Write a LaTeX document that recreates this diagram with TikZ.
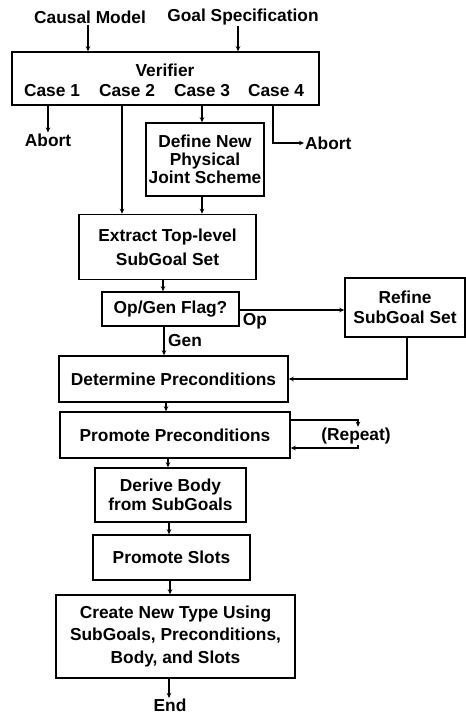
\documentclass[tikz,border=0pt]{standalone}
\usepackage{fontspec}
\setmainfont{Liberation Sans}
\usetikzlibrary{arrows.meta}
\begin{document}
\begin{tikzpicture}[x=1bp,y=-1bp,
  font=\bfseries\fontsize{17.4}{19.5}\selectfont,
  box/.style={draw,line width=1.5bp,inner sep=0pt,align=center},
  lbl/.style={inner sep=1pt},
  conn/.style={line width=1.4bp,-{Stealth[length=5bp,width=4.5bp]}},
  plain/.style={line width=1.4bp}]
\useasboundingbox (0,0) rectangle (466,717);
% labels on top
\node[lbl] (causal) at (90,17) {Causal Model};
\node[lbl] (goal) at (243,17) {Goal Specification};
% verifier
\node[box,minimum width=307bp,minimum height=53bp] (ver) at (165.5,78.5) {};
\node[lbl] (vt) at (165,70) {Verifier};
\node[lbl] (c1) at (52,91) {Case 1};
\node[lbl] (c2) at (127,91) {Case 2};
\node[lbl] (c3) at (202,91) {Case 3};
\node[lbl] (c4) at (276,91) {Case 4};
\node[lbl] (ab1) at (48,140) {Abort};
\node[lbl,anchor=west] (ab2) at (304,143) {Abort};
% boxes
\node[box,minimum width=118bp,minimum height=73bp,font=\bfseries\fontsize{17.4}{18}\selectfont] (def) at (205,159.5) {Define New\\Physical\\Joint Scheme};
\node[box,minimum width=177bp,minimum height=65bp,font=\bfseries\fontsize{17.4}{24}\selectfont] (ext) at (167.5,247) {Extract Top-level\\SubGoal Set};
\node[box,minimum width=137bp,minimum height=34bp] (opg) at (170.5,309) {Op/Gen Flag?};
\node[box,minimum width=120bp,minimum height=59bp] (ref) at (405,307.5) {Refine\\SubGoal Set};
\node[box,minimum width=229bp,minimum height=46bp] (det) at (173.5,379) {Determine Preconditions};
\node[box,minimum width=230bp,minimum height=46bp] (pp) at (175,435) {Promote Preconditions};
\node[lbl] (rep) at (356,436) {(Repeat)};
\node[box,minimum width=151bp,minimum height=54bp] (der) at (170.5,495) {Derive Body\\from SubGoals};
\node[box,minimum width=157bp,minimum height=45bp] (ps) at (171.5,557.5) {Promote Slots};
\node[box,minimum width=239bp,minimum height=83bp,font=\bfseries\fontsize{17.4}{22.5}\selectfont] (cre) at (175.5,636.5) {Create New Type Using\\SubGoals, Preconditions,\\Body, and Slots};
\node[lbl] (end) at (170,705.5) {End};
% connectors
\draw[conn] ([xshift=-2bp]causal.south) -- ([xshift=-2bp]causal.south |- ver.north);
\draw[conn] ([xshift=-5bp]goal.south) -- ([xshift=-5bp]goal.south |- ver.north);
\draw[conn] ([xshift=-4bp]c1.south |- ver.south) -- ([xshift=-4bp]c1.south |- ab1.north);
\draw[conn] ([xshift=-5bp]c2.south |- ver.south) -- ([xshift=-5bp]c2.south |- ext.north);
\draw[conn] (c3.south |- ver.south) -- (c3.south |- def.north);
\draw[conn] ([xshift=-3bp]c4.south |- ver.south) |- (ab2.west);
\draw[conn] (def.south -| c3.south) -- (c3.south |- ext.north);
\draw[conn] (ext.south -| 163,0) -- (opg.north -| 163,0);
\draw[conn] (opg.east |- 0,310) -- (ref.west |- 0,310);
\node[lbl] (oplbl) at (255,321) {Op};
\draw[conn] (opg.south -| 164,0) -- (det.north -| 164,0);
\node[lbl] (genlbl) at (185,341) {Gen};
\draw[conn] (ref.south -| 407,0) |- (det.east);
\draw[conn] (det.south -| 166,0) -- (pp.north -| 166,0);
\draw[conn] (pp.east |- 0,420) -| (rep.north -| 358,0);
\draw[conn] (rep.south -| 358,0) |- (pp.east |- 0,448);
\draw[conn] (pp.south -| 168,0) -- (der.north -| 168,0);
\draw[conn] (der.south -| 169,0) -- (ps.north -| 169,0);
\draw[conn] (ps.south -| 170,0) -- (cre.north -| 170,0);
\draw[conn] (cre.south -| 169,0) -- (end.north -| 169,0);
\end{tikzpicture}
\end{document}
